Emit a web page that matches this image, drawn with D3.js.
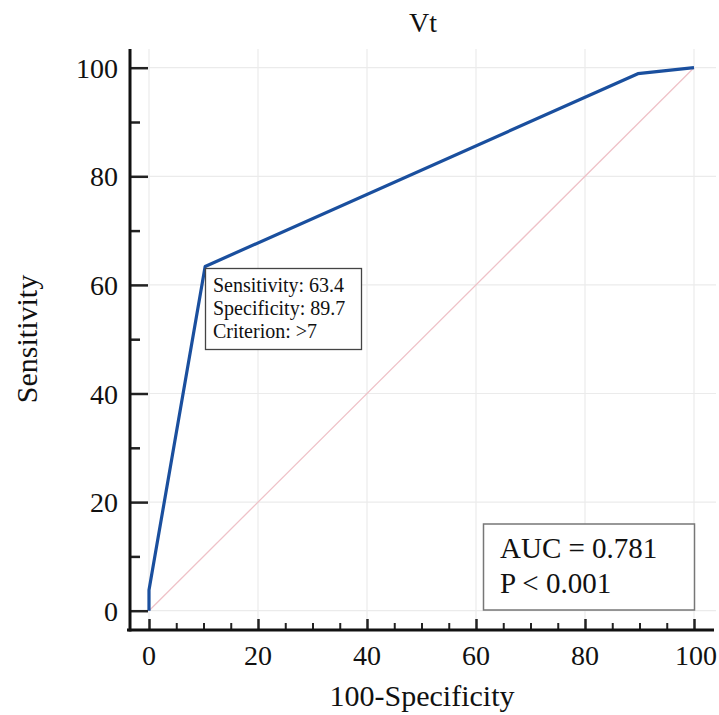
<!DOCTYPE html>
<html>
<head>
<meta charset="utf-8">
<script src="https://cdn.jsdelivr.net/npm/d3@7"></script>
<style>
  body { margin: 0; background: #fff; }
  svg { display: block; font-family: "Liberation Serif", "Times New Roman", serif; }
</style>
</head>
<body>
<svg id="chart" width="719" height="715"></svg>
<script>
// Data
const rocX = [0, 0, 10.3, 89.7, 100];      // 100-Specificity
const rocY = [0, 3.8, 63.4, 98.9, 100];    // Sensitivity
const diagX = [0, 100];
const diagY = [0, 100];
const majorTicks = [0, 20, 40, 60, 80, 100];
const minorTicks = [10, 30, 50, 70, 90];
const xMinorTicks = [0,5,10,15,20,25,30,35,40,45,50,55,60,65,70,75,80,85,90,95,100];
const title = "Vt";
const xTitle = "100-Specificity";
const yTitle = "Sensitivity";
const criterionLines = ["Sensitivity: 63.4", "Specificity: 89.7", "Criterion: >7"];
const statLines = ["AUC = 0.781", "P < 0.001"];

const svg = d3.select("#chart");
const x = d3.scaleLinear().domain([0, 100]).range([149, 694]);
const y = d3.scaleLinear().domain([0, 100]).range([610.7, 67.7]);

const axisX = 130, axisY = 630;

// gridlines
const grid = svg.append("g");
grid.selectAll("line.gv").data(majorTicks).enter().append("line")
  .attr("x1", d => x(d)).attr("x2", d => x(d))
  .attr("y1", 49).attr("y2", axisY)
  .attr("stroke", "#ebebeb").attr("stroke-width", 1.2);
grid.selectAll("line.gh").data(majorTicks).enter().append("line")
  .attr("x1", axisX).attr("x2", 716)
  .attr("y1", d => y(d)).attr("y2", d => y(d))
  .attr("stroke", "#ebebeb").attr("stroke-width", 1.2);

// diagonal reference
const line = d3.line().x(d => x(d[0])).y(d => y(d[1]));
svg.append("path")
  .attr("d", line(diagX.map((v, i) => [v, diagY[i]])))
  .attr("fill", "none").attr("stroke", "#efc2c8").attr("stroke-width", 1.3);

// ROC curve
svg.append("path")
  .attr("d", line(rocX.map((v, i) => [v, rocY[i]])))
  .attr("fill", "none").attr("stroke", "#1a4f9e").attr("stroke-width", 3.2)
  .attr("stroke-linejoin", "round");

// Y axis
const yAxis = d3.axisRight(y).tickValues(majorTicks).tickSize(18).tickFormat("");
const gy = svg.append("g").attr("transform", `translate(${axisX},0)`).call(yAxis);
gy.select(".domain").remove();
gy.selectAll(".tick line").attr("stroke", "#222").attr("stroke-width", 2.5);
const yAxisMinor = d3.axisRight(y).tickValues(minorTicks).tickSize(10).tickFormat("");
const gym = svg.append("g").attr("transform", `translate(${axisX},0)`).call(yAxisMinor);
gym.select(".domain").remove();
gym.selectAll(".tick line").attr("stroke", "#222").attr("stroke-width", 2.5);
svg.append("line").attr("x1", axisX).attr("x2", axisX).attr("y1", 49).attr("y2", axisY + 1.5)
  .attr("stroke", "#111").attr("stroke-width", 3);
svg.selectAll("text.ytl").data(majorTicks).enter().append("text")
  .attr("x", 118).attr("y", d => y(d) + 10)
  .attr("text-anchor", "end").attr("font-size", 28).attr("fill", "#111")
  .text(d => d);

// X axis
const xAxisMinor = d3.axisTop(x).tickValues(xMinorTicks.filter(v => majorTicks.indexOf(v) < 0)).tickSize(7).tickFormat("");
const gxm = svg.append("g").attr("transform", `translate(0,${axisY})`).call(xAxisMinor);
gxm.select(".domain").remove();
gxm.selectAll(".tick line").attr("stroke", "#222").attr("stroke-width", 2);
const xAxis = d3.axisTop(x).tickValues(majorTicks).tickSize(11).tickFormat("");
const gx = svg.append("g").attr("transform", `translate(0,${axisY})`).call(xAxis);
gx.select(".domain").remove();
gx.selectAll(".tick line").attr("stroke", "#222").attr("stroke-width", 2.5);
svg.append("line").attr("x1", 127).attr("x2", 714).attr("y1", axisY).attr("y2", axisY)
  .attr("stroke", "#111").attr("stroke-width", 3);
svg.selectAll("text.xtl").data(majorTicks).enter().append("text")
  .attr("x", d => x(d) + (d === 100 ? 2 : 0)).attr("y", 665)
  .attr("text-anchor", "middle").attr("font-size", 28).attr("fill", "#111")
  .text(d => d);

// titles
svg.append("text").attr("x", 423).attr("y", 32).attr("text-anchor", "middle")
  .attr("font-size", 28).attr("fill", "#111").text(title);
svg.append("text").attr("x", 422).attr("y", 706).attr("text-anchor", "middle")
  .attr("font-size", 30).attr("fill", "#111").text(xTitle);
svg.append("text").attr("transform", "translate(37,339) rotate(-90)").attr("text-anchor", "middle")
  .attr("font-size", 30).attr("fill", "#111").text(yTitle);

// criterion box
svg.append("rect").attr("x", 205.5).attr("y", 268.5).attr("width", 156).attr("height", 81)
  .attr("fill", "#fff").attr("stroke", "#444").attr("stroke-width", 1.3);
svg.selectAll("text.crit").data(criterionLines).enter().append("text")
  .attr("x", 213).attr("y", (d, i) => 292 + i * 23)
  .attr("font-size", 20).attr("fill", "#111").text(d => d);

// AUC box
svg.append("rect").attr("x", 483.5).attr("y", 524).attr("width", 211).attr("height", 86)
  .attr("fill", "#fff").attr("stroke", "#777").attr("stroke-width", 1.5);
svg.selectAll("text.stat").data(statLines).enter().append("text")
  .attr("x", 500).attr("y", (d, i) => 558 + i * 35)
  .attr("font-size", 29).attr("fill", "#111").text(d => d);
</script>
</body>
</html>
